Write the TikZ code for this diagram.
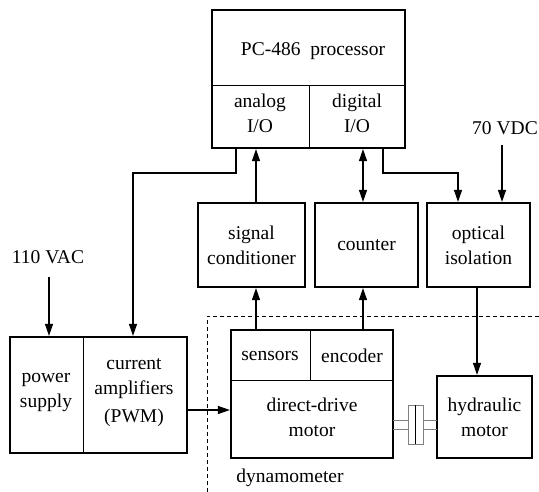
\documentclass[tikz,border=0pt]{standalone}
\usepackage{fontspec}
\setmainfont{Liberation Serif}
\usetikzlibrary{arrows.meta}
\newcommand{\bigfnt}{\fontsize{19.5}{25}\selectfont}
\tikzset{
  blk/.style={draw, line width=2.2pt, inner sep=0pt, align=center, font=\bigfnt},
  lbl/.style={inner sep=0pt, align=center, font=\bigfnt},
  divline/.style={line width=0.7pt},
  arr/.style={line width=1.1pt, -{Triangle[length=12pt,width=8pt]}},
  darr/.style={line width=1.1pt, {Triangle[length=12pt,width=8pt]}-{Triangle[length=12pt,width=8pt]}},
}
\begin{document}
\begin{tikzpicture}[x=1pt,y=-1pt]
\useasboundingbox (0,0) rectangle (539,492);
% Boxes
\node[blk, minimum width=193pt, minimum height=138pt] (pc) at (308.5,79) {};
\node[blk, minimum width=107pt, minimum height=84pt] (sig) at (251.5,245) {signal\\conditioner};
\node[blk, minimum width=103pt, minimum height=84pt] (counter) at (366.5,245) {counter};
\node[blk, minimum width=103pt, minimum height=84pt] (opt) at (478.5,245) {optical\\isolation};
\node[blk, minimum width=177pt, minimum height=116pt] (pwr) at (98.5,395) {};
\node[blk, minimum width=162pt, minimum height=128pt] (motor) at (312,394) {};
\node[blk, minimum width=95pt, minimum height=82pt] (hyd) at (484.5,417) {hydraulic\\motor};
% Dividers
\draw[divline] (212,85) -- (405,85);
\draw[divline] (309,85) -- (309,148);
\draw[divline] (83,337) -- (83,453);
\draw[divline] (231,380) -- (393,380);
\draw[divline] (310,330) -- (310,380);
% Text Node
\node[lbl] (pctxt) at (313,51) {PC-486\ \ processor};
\node[lbl] (analog) at (260,113) {analog\\I/O};
\node[lbl] (digital) at (357,113) {digital\\I/O};
\node[lbl] (power) at (46,393) {power\\supply};
\node[lbl] (amps) at (134,393) {current\\amplifiers\\[3pt](PWM)};
\node[lbl] (sensors) at (270,356) {sensors};
\node[lbl] (encoder) at (352,356) {encoder};
\node[lbl] (ddm) at (312,417) {direct-drive\\motor};
\node[lbl] (dyn) at (290,478) {dynamometer};
\node[lbl] (vac) at (48,257) {110 VAC};
\node[lbl] (vdc) at (505,128) {70 VDC};
% Tap points
\coordinate (tA) at (236,173);
\coordinate (tB) at (133,173);
\coordinate (tC) at (383,173);
\coordinate (tD) at (458,173);
\coordinate (xs) at (256,0);
\coordinate (xe) at (363,0);
\coordinate (xh) at (477,0);
\coordinate (xv) at (502,0);
\coordinate (xp) at (49,0);
\coordinate (yp) at (0,410);
% Connectors
\draw[arr] (pc.south -| tA) -- (tA) -- (tB) -- (pwr.north -| tB);
\draw[arr] (sig.north -| xs) -- (pc.south -| xs);
\draw[darr] (counter.north -| xe) -- (pc.south -| xe);
\draw[arr] (pc.south -| tC) -- (tC) -- (tD) -- (opt.north -| tD);
\draw[arr, shorten <=10pt] (vdc.south -| xv) -- (opt.north -| xv);
\draw[arr, shorten <=13pt] (vac.south -| xp) -- (pwr.north -| xp);
\draw[arr] (motor.north -| xs) -- (sig.south -| xs);
\draw[arr] (motor.north -| xe) -- (counter.south -| xe);
\draw[arr] (opt.south -| xh) -- (hyd.north -| xh);
\draw[arr] (pwr.east |- yp) -- (motor.west |- yp);
% Dynamometer border
\draw[line width=0.7pt, dash pattern=on 4pt off 3pt] (539,316) -- (207,316) -- (207,492);
% Coupling
\draw[gray, line width=0.8pt] (393,420) -- (408,420) (393,429) -- (408,429)
  (423,420) -- (437,420) (423,429) -- (437,429);
\draw[gray, line width=0.8pt] (408,405) rectangle (423,444);
\draw[line width=0.8pt] (415.5,405) -- (415.5,444);
\end{tikzpicture}
\end{document}
